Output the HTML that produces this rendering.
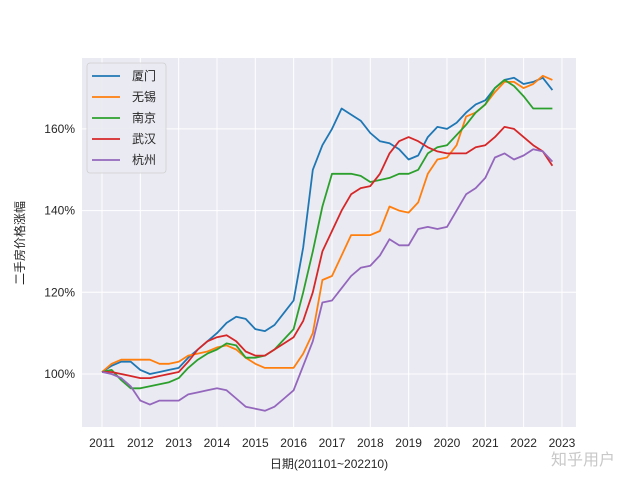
<!DOCTYPE html>
<html><head><meta charset="utf-8"><style>
body{margin:0;background:#fff;width:640px;height:480px;overflow:hidden}
text{font-family:"Liberation Sans","Noto Sans CJK SC",sans-serif;fill:#262626}
</style></head><body>
<svg id="chart" width="640" height="480">
<rect x="82" y="58" width="494" height="369" fill="#eaeaf2"/>
<g id="grid"></g><g id="lines"></g><g id="axes"></g>
<g>
<rect x="87" y="63" width="79" height="110" rx="3" fill="#eaeaf2" stroke="#cccccc" stroke-width="0.8" opacity="0.9"/>
<g id="legend"></g></g>
<text x="329" y="468" text-anchor="middle" font-size="12">日期(201101~202210)</text>
<text transform="translate(24,243) rotate(-90)" text-anchor="middle" font-size="12">二手房价格涨幅</text>
<text x="583" y="465" text-anchor="middle" font-size="16" style="fill:#c8c8c8">知乎用户</text>
</svg>
<script>
const names=["厦门","无锡","南京","武汉","杭州"];
const colors=["#1f77b4","#ff7f0e","#2ca02c","#d62728","#9467bd"];
const xiamen=[100.5,102,103,103,101,100,100.5,101,101.5,104,106,108,110,112.5,114,113.5,111,110.5,112,115,118,131,150,156,160,165,163.5,162,159,157,156.5,155,152.5,153.5,158,160.5,160,161.5,164,166,167,170,172,172.5,171,171.5,172.5,169.5];
const wuxi=[100.5,102.5,103.5,103.5,103.5,103.5,102.5,102.5,103,104.5,105,105.5,106.5,107,106,104,102.5,101.5,101.5,101.5,101.5,105,110,123,124,129,134,134,134,135,141,140,139.5,142,149,152.5,153,156,163,164,166,169,171.5,171.5,170,171,173,172];
const nanjing=[100.5,101,98.5,96.5,96.5,97,97.5,98,99,101.5,103.5,105,106,107.5,107,104,104,104.5,106,108.5,111,120,130,141,149,149,149,148.5,147,147.5,148,149,149,150,154,155.5,156,158.5,161,164,166,170,172,170.5,168,165,165,165];
const wuhan=[100.5,100.5,100,99.5,99,99,99.5,100,100.5,103,106,108,109,109.5,108,105.5,104.5,104.5,106,107.5,109,113,120,130,135,140,144,145.5,146,149,154,157,158,157,155.5,154.5,154,154,154,155.5,156,158,160.5,160,158,156,154.5,151];
const hangzhou=[100.5,100,99,97,93.5,92.5,93.5,93.5,93.5,95,95.5,96,96.5,96,94,92,91.5,91,92,94,96,102,108,117.5,118,121,124,126,126.5,129,133,131.5,131.5,135.5,136,135.5,136,140,144,145.5,148,153,154,152.5,153.5,155,154.5,152];
const series=[xiamen,wuxi,nanjing,wuhan,hangzhou];
const yTicks=[100,120,140,160];
const xTicks=[2011,2012,2013,2014,2015,2016,2017,2018,2019,2020,2021,2022,2023];
const startYear=2011, step=0.25;
const X=y=>102+(y-2011)*38.33;
const Y=v=>374-(v-100)*4.085;
const ns="http://www.w3.org/2000/svg";
const g=document.getElementById('grid'),ax=document.getElementById('axes'),L=document.getElementById('lines'),lg=document.getElementById('legend');
function mk(t,a,p){const e=document.createElementNS(ns,t);for(const k in a)e.setAttribute(k,a[k]);p.appendChild(e);return e;}
yTicks.forEach(v=>{
 const l=mk('line',{x1:82,x2:576,y1:Y(v),y2:Y(v),stroke:'#fff','stroke-width':1},g);
 
 
 const t=mk('text',{x:75,y:Y(v)+4,'text-anchor':'end','font-size':12},ax);t.textContent=v+'%';
 
 
});
xTicks.forEach(v=>{
 const l=mk('line',{x1:X(v),x2:X(v),y1:58,y2:427,stroke:'#fff','stroke-width':1},g);
 
 
 const t=mk('text',{x:X(v),y:447,'text-anchor':'middle','font-size':12},ax);t.textContent=v;
 
 
});
series.forEach((s,i)=>{
 const d=s.map((v,j)=>(j?'L':'M')+X(startYear+j*step).toFixed(1)+','+Y(v).toFixed(1)).join('');
 const p=mk('path',{d:d,fill:'none',stroke:colors[i],'stroke-width':1.8,'stroke-linejoin':'round'},L);
 
 
 const yy=76+i*21;
 const ll=mk('line',{x1:92,x2:120,y1:yy,y2:yy,stroke:colors[i],'stroke-width':1.8},lg);
 
 
 const t=mk('text',{x:132,y:yy+4,'font-size':12},lg);t.textContent=names[i];
 
 
});
</script>
</body></html>
